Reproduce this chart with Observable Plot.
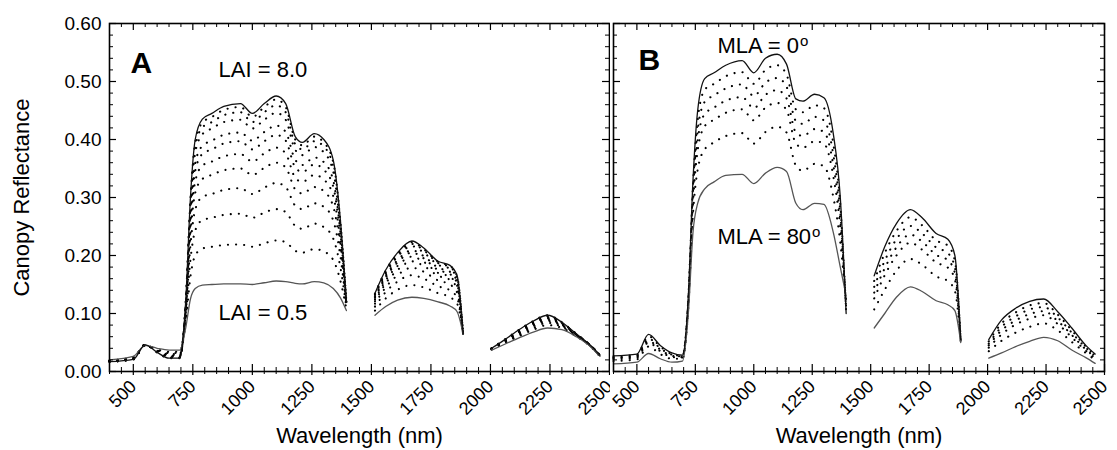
<!DOCTYPE html>
<html>
<head>
<meta charset="utf-8">
<script src="https://cdn.jsdelivr.net/npm/d3@7"></script>
<script src="https://cdn.jsdelivr.net/npm/@observablehq/plot@0.6"></script>
<style>
  html, body { margin: 0; padding: 0; background: #fff; }
  #chart { display: flex; flex-direction: row; width: 1117px; height: 450px; }
  #chart svg { display: block; overflow: visible; }
</style>
</head>
<body>
<div id="chart"></div>
<script>
// ---------- data ----------
const wavelength = [
  400, 500, 550, 600, 650, 695, 720, 740, 760, 790, 830, 880, 950, 1000, 1050, 1100, 1140, 1180, 1210, 1260, 1300, 1340, 1370, 1395,
  1515, 1560, 1610, 1670, 1720, 1780, 1830, 1860, 1885,
  2005, 2060, 2120, 2180, 2240, 2300, 2360, 2420, 2460
];
const bandRanges = [[400, 1395], [1515, 1885], [2005, 2460]];

// Panel A: canopy reflectance for LAI 0.5 ... 8.0
const laiLevels = [0.5, 1, 1.5, 2, 2.5, 3, 3.5, 4, 5, 6, 7, 8];
const lai05 = [.020,.026,.045,.040,.037,.037,.075,.125,.143,.149,.150,.151,.151,.150,.153,.156,.155,.152,.151,.155,.153,.143,.127,.105, .097,.112,.123,.128,.126,.120,.113,.103,.065, .037,.047,.058,.068,.075,.072,.060,.043,.026];
const lai10 = [.019,.025,.045,.038,.034,.034,.085,.164,.200,.212,.215,.218,.219,.215,.221,.226,.223,.208,.205,.211,.207,.192,.156,.108, .105,.126,.141,.149,.145,.135,.128,.117,.065, .038,.049,.061,.072,.080,.075,.061,.043,.026];
const lai15 = [.019,.024,.045,.037,.032,.032,.093,.193,.243,.261,.265,.270,.272,.265,.274,.280,.275,.251,.246,.255,.249,.229,.179,.111, .112,.137,.155,.166,.160,.147,.140,.127,.065, .038,.050,.063,.075,.084,.077,.062,.044,.027];
const lai20 = [.018,.023,.046,.036,.030,.030,.099,.218,.279,.301,.306,.313,.316,.306,.317,.325,.318,.286,.280,.290,.284,.260,.198,.113, .117,.145,.166,.179,.172,.157,.150,.136,.065, .039,.051,.065,.078,.087,.079,.063,.044,.027];
const lai25 = [.018,.023,.046,.036,.028,.028,.104,.237,.308,.332,.339,.347,.350,.339,.351,.360,.352,.314,.307,.318,.311,.284,.212,.115, .121,.152,.175,.190,.182,.165,.158,.143,.065, .039,.052,.067,.080,.089,.080,.063,.044,.027];
const lai30 = [.018,.022,.046,.035,.027,.027,.107,.251,.328,.355,.362,.371,.375,.362,.376,.386,.376,.334,.327,.339,.331,.302,.223,.116, .124,.157,.182,.198,.189,.170,.163,.148,.065, .039,.053,.068,.082,.091,.081,.064,.044,.027];
const lai35 = [.018,.022,.046,.034,.026,.026,.111,.263,.346,.375,.383,.393,.397,.383,.397,.408,.398,.352,.344,.357,.348,.318,.232,.117, .127,.162,.188,.205,.195,.175,.168,.152,.065, .039,.053,.069,.083,.092,.082,.064,.045,.028];
const lai40 = [.017,.022,.046,.034,.025,.025,.113,.272,.359,.389,.398,.408,.412,.398,.413,.424,.413,.365,.356,.369,.361,.329,.239,.118, .129,.165,.192,.209,.199,.179,.172,.155,.065, .040,.054,.070,.084,.093,.083,.064,.045,.028];
const lai50 = [.017,.021,.046,.034,.024,.024,.116,.284,.377,.409,.419,.430,.434,.419,.434,.446,.434,.382,.373,.387,.378,.344,.248,.119, .132,.169,.198,.216,.205,.184,.177,.159,.065, .040,.054,.071,.085,.095,.084,.065,.045,.028];
const lai60 = [.017,.021,.046,.033,.024,.024,.118,.291,.387,.421,.430,.442,.447,.430,.447,.459,.447,.392,.383,.397,.388,.353,.253,.119, .133,.172,.201,.220,.209,.187,.180,.162,.065, .040,.055,.071,.086,.096,.084,.065,.045,.028];
const lai70 = [.017,.021,.046,.033,.023,.023,.119,.297,.395,.429,.439,.451,.456,.439,.456,.469,.456,.400,.390,.405,.395,.360,.257,.120, .134,.174,.203,.223,.211,.189,.182,.164,.065, .040,.055,.072,.087,.097,.085,.065,.045,.028];
const lai80 = [.017,.021,.046,.033,.023,.023,.120,.300,.400,.435,.445,.457,.462,.445,.462,.475,.462,.405,.395,.410,.400,.364,.260,.120, .135,.175,.205,.225,.213,.190,.183,.165,.065, .040,.055,.072,.087,.097,.085,.065,.045,.028];

// Panel B: canopy reflectance for mean leaf angle (MLA) 0° ... 80°
const mlaLevels = [80, 70, 60, 45, 30, 15, 0];
const mla80 = [.013,.016,.031,.022,.016,.018,.100,.240,.290,.315,.327,.338,.340,.324,.342,.352,.345,.290,.279,.290,.288,.240,.180,.130, .075,.100,.128,.146,.138,.122,.115,.105,.050, .023,.032,.043,.052,.059,.053,.037,.024,.014];
const mla70 = [.018,.021,.043,.030,.022,.022,.111,.272,.348,.383,.395,.406,.411,.393,.413,.422,.412,.355,.346,.358,.354,.301,.223,.119, .107,.141,.174,.194,.184,.164,.156,.139,.052, .035,.053,.067,.077,.083,.071,.051,.032,.020];
const mla60 = [.021,.024,.050,.035,.025,.024,.117,.291,.381,.423,.434,.446,.452,.433,.455,.463,.451,.393,.386,.397,.393,.337,.248,.113, .126,.166,.200,.222,.210,.188,.179,.159,.053, .041,.064,.081,.091,.097,.082,.059,.036,.023];
const mla45 = [.023,.026,.053,.038,.027,.025,.120,.301,.399,.444,.455,.467,.473,.454,.477,.485,.471,.412,.406,.418,.413,.356,.262,.110, .136,.178,.214,.236,.224,.201,.192,.170,.053, .045,.071,.088,.099,.104,.087,.063,.038,.025];
const mla30 = [.024,.027,.057,.040,.029,.026,.124,.311,.416,.465,.476,.488,.495,.475,.498,.506,.491,.432,.427,.439,.433,.374,.275,.106, .146,.191,.228,.251,.238,.214,.204,.180,.054, .048,.077,.095,.107,.111,.093,.067,.041,.027];
const mla15 = [.026,.029,.061,.043,.030,.027,.127,.321,.434,.486,.496,.509,.516,.496,.520,.528,.512,.452,.447,.459,.454,.393,.288,.103, .156,.204,.242,.266,.252,.226,.217,.191,.055, .052,.083,.102,.114,.118,.098,.071,.043,.028];
const mla00 = [.027,.030,.064,.045,.032,.028,.130,.330,.450,.505,.515,.528,.536,.515,.540,.547,.530,.470,.466,.478,.472,.410,.300,.100, .165,.215,.255,.279,.265,.238,.228,.200,.055, .055,.089,.109,.121,.125,.103,.075,.045,.030];

// Axes
const xTickLabels = [500, 750, 1000, 1250, 1500, 1750, 2000, 2250, 2500];
const yTickLabels = [0, 0.1, 0.2, 0.3, 0.4, 0.5, 0.6];
const xMinorStep = 50;
const yMinorStep = 0.02;

// Annotations
const notesA = [
  {wl: 488, r: 0.515, label: "A", bold: true},
  {wl: 858, r: 0.507, label: "LAI = 8.0"},
  {wl: 858, r: 0.088, label: "LAI = 0.5"}
];
const notesB = [
  {wl: 507, r: 0.519, label: "B", bold: true},
  {wl: 845, r: 0.550, label: "MLA = 0"},
  {wl: 845, r: 0.219, label: "MLA = 80"}
];

// ---------- build ----------
const bandOf = w => bandRanges.findIndex(([a, b]) => w >= a && w <= b);
function toRows(series) {
  const n = series.length;
  return series.flatMap((vals, k) => vals.map((r, j) => ({
    wl: wavelength[j], r, k, band: bandOf(wavelength[j]),
    role: k === 0 ? "low" : (k === n - 1 ? "high" : "mid")
  })));
}
const rowsA = toRows([lai05, lai10, lai15, lai20, lai25, lai30, lai35, lai40, lai50, lai60, lai70, lai80]);
const rowsB = toRows([mla80, mla70, mla60, mla45, mla30, mla15, mla00]);

const xMinor = d3.range(400, 2501, xMinorStep).filter(v => !xTickLabels.includes(v));
const yMinor = d3.range(0, 0.6001, yMinorStep).map(v => +v.toFixed(2)).filter(v => !yTickLabels.some(t => Math.abs(t - v) < 1e-6));

const FONT = "'Liberation Sans', Arial, Helvetica, sans-serif";
const MT = 23, MB = 79, HEIGHT = 450;

function panel({rows, notes, width, marginLeft, marginRight, leftAxis}) {
  const H = HEIGHT - MT - MB;
  const W = width - marginLeft - marginRight;
  const z = d => d.k + "-" + d.band;
  const marks = [
    Plot.line(rows.filter(d => d.role === "mid"), {x: "wl", y: "r", z, curve: "monotone-x",
      stroke: "#000", strokeWidth: 2.1, strokeDasharray: "0.1 8", strokeLinecap: "round"}),
    Plot.line(rows.filter(d => d.role === "low"), {x: "wl", y: "r", z, curve: "monotone-x",
      stroke: "#555", strokeWidth: 1.3}),
    Plot.line(rows.filter(d => d.role === "high"), {x: "wl", y: "r", z, curve: "monotone-x",
      stroke: "#111", strokeWidth: 1.3}),
    Plot.frame({stroke: "#000", strokeWidth: 1.6}),
    // bottom ticks (crossing the axis)
    Plot.ruleX(xTickLabels, {x: d => d, insetTop: H - 7, insetBottom: -4, stroke: "#000", strokeWidth: 1.2}),
    Plot.ruleX(xMinor, {x: d => d, insetTop: H - 4, insetBottom: -3, stroke: "#000", strokeWidth: 1}),
    // top ticks (inward)
    Plot.ruleX(xTickLabels, {x: d => d, insetBottom: H - 7, stroke: "#000", strokeWidth: 1.2}),
    Plot.ruleX(xMinor, {x: d => d, insetBottom: H - 4, stroke: "#000", strokeWidth: 1}),
    // left & right ticks (inward)
    Plot.ruleY(yTickLabels, {y: d => d, insetRight: W - 7, stroke: "#000", strokeWidth: 1.2}),
    Plot.ruleY(yMinor, {y: d => d, insetRight: W - 4, stroke: "#000", strokeWidth: 1}),
    Plot.ruleY(yTickLabels, {y: d => d, insetLeft: W - 7, stroke: "#000", strokeWidth: 1.2}),
    Plot.ruleY(yMinor, {y: d => d, insetLeft: W - 4, stroke: "#000", strokeWidth: 1}),
    // rotated x tick labels
    Plot.text(xTickLabels, {x: d => d, text: d => String(d), frameAnchor: "bottom", dy: 12,
      rotate: -45, textAnchor: "end", lineAnchor: "middle", fontSize: 18, fill: "#000"}),
    // x axis title
    Plot.text(["Wavelength (nm)"], {text: d => d, frameAnchor: "bottom", dy: 71, lineAnchor: "bottom",
      textAnchor: "middle", fontSize: 22, fill: "#000"}),
    // annotations
    Plot.text(notes.filter(d => !d.bold), {x: "wl", y: "r", text: "label", textAnchor: "start",
      lineAnchor: "bottom", fontSize: 22, fill: "#000"}),
    Plot.text(notes.filter(d => d.bold), {x: "wl", y: "r", text: "label", textAnchor: "start",
      lineAnchor: "bottom", fontSize: 30, fontWeight: "bold", fill: "#000"})
  ];
  if (leftAxis) {
    marks.push(Plot.text(["Canopy Reflectance"], {text: d => d, frameAnchor: "left", dx: -88,
      rotate: -90, textAnchor: "middle", lineAnchor: "middle", fontSize: 22, fill: "#000"}));
  }
  return Plot.plot({
    width, height: HEIGHT, marginTop: MT, marginBottom: MB, marginLeft, marginRight,
    style: {fontFamily: FONT, fontSize: "19px", background: "#fff", color: "#000", overflow: "visible"},
    x: {domain: [400, 2500], axis: null},
    y: {domain: [0, 0.6], axis: leftAxis ? "left" : null, ticks: yTickLabels,
        tickFormat: d3.format(".2f"), tickSize: 0, tickPadding: 8, label: null},
    marks
  });
}

const svgA = panel({rows: rowsA, notes: notesA, width: 610, marginLeft: 109, marginRight: 1, leftAxis: true});
const svgB = panel({rows: rowsB, notes: notesB, width: 507, marginLeft: 3, marginRight: 13, leftAxis: false});

// superscript "o" after the MLA values
d3.select(svgB).selectAll("text").filter(function () { return /^MLA = \d+$/.test(this.textContent); })
  .append("tspan").attr("dx", "1").attr("dy", "-7").attr("font-size", "15px").text("o");

const chart = document.getElementById("chart");
chart.appendChild(svgA);
chart.appendChild(svgB);
</script>
</body>
</html>
